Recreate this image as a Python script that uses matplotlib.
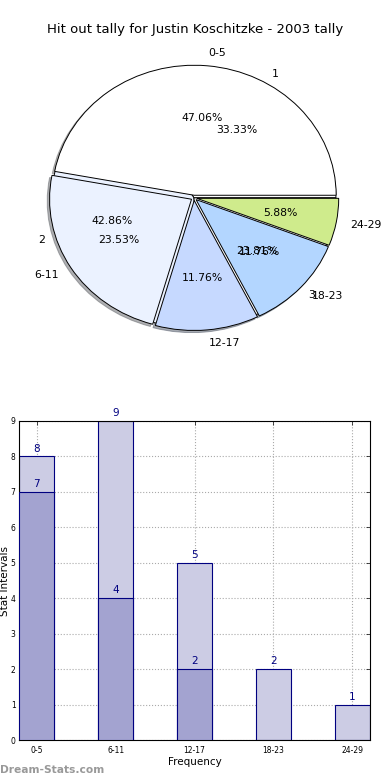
import matplotlib
matplotlib.use("Agg")
import matplotlib.pyplot as plt
import numpy as np

# Data
pie_labels = ["0-5", "6-11", "12-17", "18-23", "24-29"]
pie_values = [8, 4, 2, 2, 1]
pie2_labels = ["1", "2", "3"]
pie2_values = [7, 9, 5]

bar_categories = ["0-5", "6-11", "12-17", "18-23", "24-29"]
bar_light = [8, 9, 5, 2, 1]
bar_dark = [7, 4, 2]

title = "Hit out tally for Justin Koschitzke - 2003 tally"

pie_colors = ["#FFFFFF", "#EBF2FF", "#C6D9FF", "#B3D6FF", "#CFEB8C"]
pie2_colors = ["#FFFFFF", "#EBF2FF", "#FFFFFF"]

fig = plt.figure(figsize=(3.9, 7.8), dpi=100)
fig.patch.set_facecolor("white")

fig.text(0.5, 1 - 30 / 780, title, ha="center", va="center", fontsize=9.5)

# Pie
axp = fig.add_axes([0.0423, 0.538, 0.910, 0.4167])
w2, t2, a2 = axp.pie(pie2_values, labels=pie2_labels, colors=pie2_colors,
                     autopct="%.2f%%", startangle=0, counterclock=True,
                     labeldistance=1.1, pctdistance=0.6,
                     wedgeprops=dict(edgecolor="black", linewidth=0.7),
                     textprops=dict(fontsize=7.8))
w1, t1, a1 = axp.pie(pie_values, labels=pie_labels, colors=pie_colors,
                     autopct="%.2f%%", startangle=0, counterclock=True,
                     explode=[0.02] * len(pie_values),
                     shadow=dict(ox=-0.012, oy=-0.012, shade=0.6),
                     labeldistance=1.1, pctdistance=0.6,
                     wedgeprops=dict(edgecolor="black", linewidth=0.7),
                     textprops=dict(fontsize=7.8))
axp.set_aspect("auto")
axp.set_xlim(-1.25, 1.25)
axp.set_ylim(-1.25, 1.25)
axp.axis("off")

# Bars
axb = fig.add_axes([19 / 390, 40 / 780, 351 / 390, 319 / 780])
x = np.arange(len(bar_categories))
bw = 0.45
axb.bar(x, bar_light, width=bw, color="#CCCCE4", edgecolor="#000080",
        linewidth=0.8, zorder=2)
axb.bar(x[:len(bar_dark)], bar_dark, width=bw, color="#A3A3D0",
        edgecolor="#000080", linewidth=0.8, zorder=3)
for xi, v in zip(x, bar_light):
    axb.text(xi, v + 0.08, str(v), ha="center", va="bottom", color="#000080",
             fontsize=7.5, zorder=4)
for xi, v in zip(x, bar_dark):
    axb.text(xi, v + 0.08, str(v), ha="center", va="bottom", color="#000080",
             fontsize=7.5, zorder=4)
axb.set_xlim(-bw / 2, len(bar_categories) - 1 + bw / 2)
axb.set_ylim(0, 9)
axb.set_xticks(x)
axb.set_xticklabels(bar_categories, fontsize=5.5)
axb.set_yticks(range(0, 10))
axb.tick_params(direction="in", length=3, width=0.5, top=True, right=True, pad=4)
axb.tick_params(axis="y", labelsize=5.5, pad=2.5)
axb.grid(True, linestyle=":", color="#AAAAAA", linewidth=0.8, zorder=1)
axb.set_axisbelow(True)
axb.set_xlabel("Frequency", fontsize=7.5, labelpad=2)
axb.set_ylabel("Stat Intervals", fontsize=7.5)
axb.yaxis.set_label_coords(-0.027, 0.5)
for s in axb.spines.values():
    s.set_linewidth(0.8)

fig.text(0.0, 1 - 770 / 780, "Dream-Stats.com", ha="left", va="center",
         fontsize=7.7, color="#999999", fontweight="bold")

fig.savefig("out.png", dpi=100)
